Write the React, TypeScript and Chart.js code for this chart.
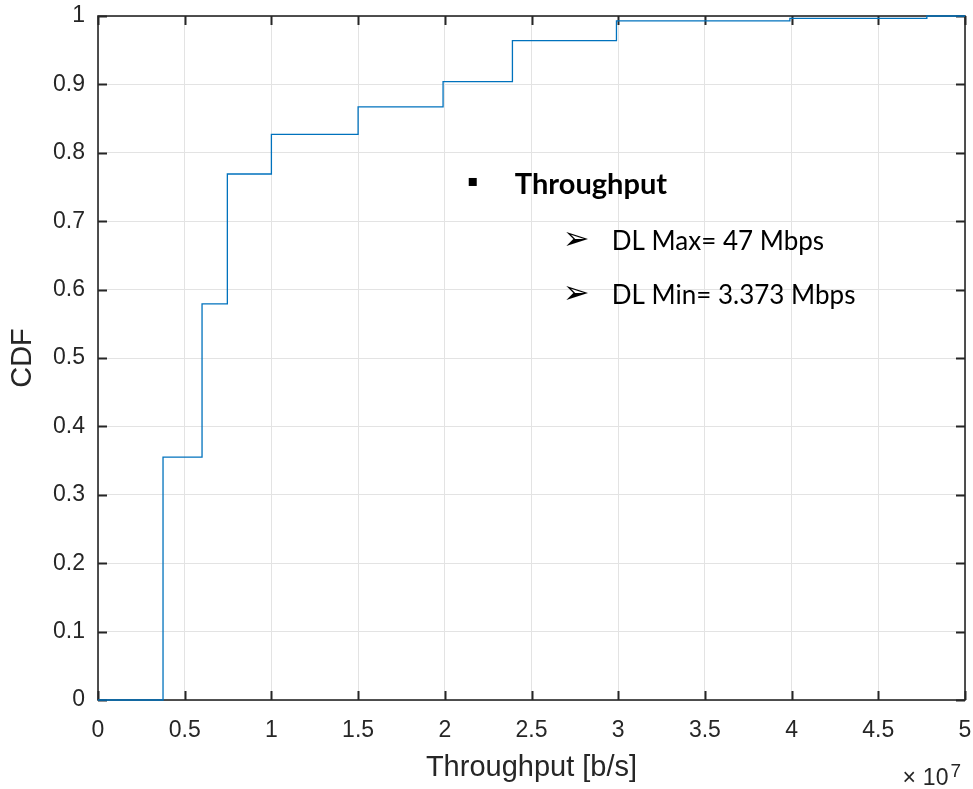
import React, { useEffect, useRef } from "react";
import { Chart, registerables } from "chart.js";

Chart.register(...registerables);

// Step positions of the empirical CDF (throughput in b/s) and CDF values
const throughputBps = [0, 3.75e6, 6.0e6, 7.46e6, 1.0e7, 1.5e7, 1.99e7, 2.39e7, 2.99e7, 3.99e7, 4.78e7, 5.0e7];
const cdfValues = [0, 0.355, 0.579, 0.769, 0.827, 0.867, 0.904, 0.964, 0.993, 0.9965, 1.0, 1.0];

const xTitle = "Throughput [b/s]";
const yTitle = "CDF";
const xTimes = "×";
const xExponentBase = "10";
const xExponent = "7";

const noteTitle = "Throughput";
const noteItems = ["DL Max= 47 Mbps", "DL Min= 3.373 Mbps"];
const noteArrow = "➢";

const AXIS = "#262626";
const LINE = "#0072BD";
const GRID = "#e3e3e3";
const TICK_FONT = "Liberation Sans, Arial, sans-serif";
const NOTE_FONT = "Lato, 'Open Sans', sans-serif";

const fmt = (v: number) => String(Number(v.toFixed(3)));

const zeroPad = (s: any) => {
  s.paddingLeft = 0;
  s.paddingRight = 0;
  s.paddingTop = 0;
  s.paddingBottom = 0;
};

const framePlugin = {
  id: "frame",
  beforeDatasetsDraw(chart: any) {
    const { ctx, chartArea: a, scales } = chart;
    ctx.save();
    ctx.strokeStyle = AXIS;
    ctx.lineWidth = 1.6;
    ctx.strokeRect(a.left, a.top, a.right - a.left, a.bottom - a.top);
    const tl = 9;
    ctx.beginPath();
    scales.x.ticks.forEach((t: any) => {
      const px = Math.round(scales.x.getPixelForValue(t.value)) + 0.5;
      ctx.moveTo(px, a.bottom);
      ctx.lineTo(px, a.bottom - tl);
      ctx.moveTo(px, a.top);
      ctx.lineTo(px, a.top + tl);
    });
    scales.y.ticks.forEach((t: any) => {
      const py = Math.round(scales.y.getPixelForValue(t.value)) + 0.5;
      ctx.moveTo(a.left, py);
      ctx.lineTo(a.left + tl, py);
      ctx.moveTo(a.right, py);
      ctx.lineTo(a.right - tl, py);
    });
    ctx.lineWidth = 2;
    ctx.stroke();
    ctx.restore();
  },
  afterDraw(chart: any) {
    const { ctx, chartArea: a, scales } = chart;
    const xs = scales.x;
    const ys = scales.y;
    ctx.save();
    // exponent label
    ctx.fillStyle = AXIS;
    ctx.textBaseline = "alphabetic";
    ctx.textAlign = "right";
    ctx.font = `19px ${TICK_FONT}`;
    const expW = ctx.measureText(xExponent).width;
    ctx.fillText(xExponent, a.right - 4, 777);
    ctx.font = `23px ${TICK_FONT}`;
    const baseRight = a.right - 4 - expW - 2;
    const baseW = ctx.measureText(xExponentBase).width;
    ctx.fillText(xExponentBase, baseRight, 785);
    ctx.fillText(xTimes, baseRight - baseW - 7, 785);

    // annotation text
    ctx.fillStyle = "#000";
    ctx.textAlign = "left";
    const bx = xs.getPixelForValue(2.138e7);
    const by = ys.getPixelForValue(0.7398);
    ctx.fillRect(bx, by - 16, 8, 8);
    ctx.font = `bold 29px ${NOTE_FONT}`;
    ctx.fillText(noteTitle, xs.getPixelForValue(2.404e7), by);
    const baselines = [0.658, 0.579];
    noteItems.forEach((txt, i) => {
      const yb = ys.getPixelForValue(baselines[i]);
      ctx.font = `32px DejaVu Sans`;
      ctx.fillText(noteArrow, xs.getPixelForValue(2.686e7) - 1, yb - 1);
      ctx.font = `26px ${NOTE_FONT}`;
      ctx.fillText(txt, xs.getPixelForValue(2.963e7), yb);
    });
    ctx.restore();
  },
};

export default function App() {
  const ref = useRef<HTMLCanvasElement | null>(null);
  useEffect(() => {
    if (!ref.current) return;
    const chart = new Chart(ref.current, {
      type: "line",
      data: {
        datasets: [
          {
            data: throughputBps.map((x, i) => ({ x, y: cdfValues[i] })),
            borderColor: LINE,
            borderWidth: 1.3,
            pointRadius: 0,
            stepped: true,
            fill: false,
            clip: false as any,
          },
        ],
      },
      options: {
        animation: false,
        responsive: false,
        maintainAspectRatio: false,
        events: [],
        layout: { padding: { top: 16, right: 8, left: 0, bottom: 0 } },
        plugins: { legend: { display: false }, tooltip: { enabled: false } },
        scales: {
          x: {
            type: "linear",
            min: 0,
            max: 5e7,
            afterFit: (s: any) => {
              s.height = 89;
              zeroPad(s);
            },
            ticks: {
              stepSize: 5e6,
              autoSkip: false,
              maxRotation: 0,
              padding: 17,
              color: AXIS,
              font: { family: TICK_FONT, size: 23 },
              callback: (v: any) => fmt(Number(v) / 1e7),
            },
            grid: { color: GRID, lineWidth: 1, drawTicks: false },
            border: { display: false },
            title: {
              display: true,
              text: xTitle,
              color: AXIS,
              font: { family: TICK_FONT, size: 29 },
              padding: { top: 0, bottom: 4 },
            },
          },
          y: {
            type: "linear",
            min: 0,
            max: 1,
            afterFit: (s: any) => {
              s.width = 98;
              zeroPad(s);
            },
            ticks: {
              stepSize: 0.1,
              autoSkip: false,
              padding: 13,
              color: AXIS,
              font: { family: TICK_FONT, size: 23 },
              callback: (v: any) => fmt(Number(v)),
            },
            grid: { color: GRID, lineWidth: 1, drawTicks: false },
            border: { display: false },
            title: {
              display: true,
              text: yTitle,
              color: AXIS,
              font: { family: TICK_FONT, size: 29 },
              padding: { top: 6, bottom: 0 },
            },
          },
        },
      },
      plugins: [framePlugin],
    } as any);
    return () => chart.destroy();
  }, []);
  return (
    <div style={{ position: "absolute", left: 0, top: 0, width: 973, height: 789, background: "#fff" }}>
      <canvas ref={ref} width={973} height={789} style={{ display: "block" }} />
    </div>
  );
}
